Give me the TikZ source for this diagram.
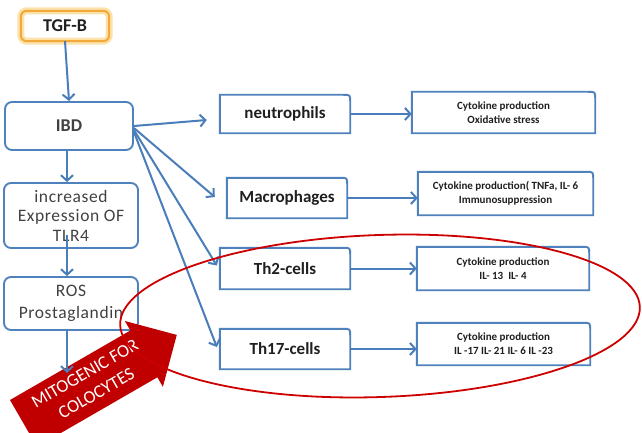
\documentclass[tikz,border=0pt]{standalone}
\usepackage{fontspec}
\setmainfont{Carlito}
\usetikzlibrary{arrows.meta,calc}
\definecolor{boxblue}{HTML}{4F81BD}
\definecolor{arrblue}{HTML}{4A7EBB}
\definecolor{darkred}{HTML}{C00000}
\definecolor{ellred}{HTML}{CC0000}
\definecolor{tgforange}{HTML}{F2A93B}
\definecolor{tgfglow}{HTML}{FCE2A8}
\definecolor{txt}{HTML}{1F1F1F}
\newcommand\trbox[1]{\draw[boxline] (#1.south west) -- (#1.north west) -- ([xshift=-7pt]#1.north east) .. controls (#1.north east) .. ([yshift=-7pt]#1.north east) -- (#1.south east) -- cycle;}
\begin{document}
\begin{tikzpicture}[x=1pt,y=-1pt,
  boxline/.style={draw=boxblue, line width=1.9pt},
  lbox/.style={boxline, rounded corners=7pt, align=center, inner sep=0pt, text=txt!85},
  rnode/.style={inner sep=0pt, align=center, text=txt},
  conn/.style={draw=arrblue, line width=2pt, -{Straight Barb[length=5.5pt,width=12pt]}},
  bigbold/.style={font=\fontsize{18}{21}\selectfont\bfseries},
  midbold/.style={font=\fontsize{17}{20}\selectfont\bfseries},
  leftfont/.style={font=\fontsize{17.5}{19.5}\selectfont\addfontfeature{LetterSpace=3.5}},
  smallbold/.style={font=\fontsize{11}{14}\selectfont\bfseries},
]
\useasboundingbox (0,0) rectangle (642,433);
\clip (0,0) rectangle (642,433);

% TGF-B
\node[rnode, bigbold, minimum width=88pt, minimum height=30pt] (tgf) at (65,26) {TGF-B};
\draw[tgfglow, line width=7pt, rounded corners=6pt] (tgf.south west) rectangle (tgf.north east);
\draw[tgforange, line width=2pt, rounded corners=6pt] (tgf.south west) rectangle (tgf.north east);

% left column
\node[lbox, bigbold, minimum width=128pt, minimum height=48pt] (ibd) at (69,126) {IBD};
\node[lbox, leftfont, minimum width=134pt, minimum height=65pt] (expr) at (71,215.5) {increased\\Expression OF\\TLR4};
\node[lbox, font=\fontsize{17.5}{22}\selectfont\addfontfeature{LetterSpace=3.5}, minimum width=134pt, minimum height=53pt] (ros) at (71,303.5) {ROS\\Prostaglandin};

% middle column
\node[rnode, midbold, minimum width=130pt, minimum height=38pt] (neut) at (285,114) {neutrophils};
\node[rnode, midbold, minimum width=120pt, minimum height=40pt] (macro) at (287,198) {Macrophages};
\node[rnode, midbold, minimum width=130pt, minimum height=41pt] (th2) at (285,268.5) {Th2-cells};
\node[rnode, midbold, minimum width=130pt, minimum height=40pt] (th17) at (285,349) {Th17-cells};
\trbox{neut}\trbox{macro}\trbox{th2}\trbox{th17}

% right column
\node[rnode, smallbold, minimum width=183pt, minimum height=41pt] (c1) at (503.5,112.5) {Cytokine production\\Oxidative stress};
\node[rnode, smallbold, minimum width=175pt, minimum height=43pt] (c2) at (505.5,193.5) {Cytokine production( TNFa, IL- 6\\Immunosuppression};
\node[rnode, smallbold, minimum width=172pt, minimum height=43pt] (c3) at (503,268.5) {Cytokine production\\IL- 13\ \ IL- 4};
\node[rnode, smallbold, minimum width=173pt, minimum height=42pt] (c4) at (503.5,344) {Cytokine production\\IL -17 IL- 21 IL- 6 IL -23};
\trbox{c1}\trbox{c2}\trbox{c3}\trbox{c4}

% connectors
\draw[conn] (tgf.south) -- (ibd.north);
\draw[conn] ([xshift=-2pt]ibd.south) -- ([xshift=-4pt]expr.north);
\draw[conn] ([yshift=14pt,xshift=-4pt]expr.south) -- ([xshift=-4pt]ros.north);
\draw[conn] (ibd.east) -- ([xshift=-13pt,yshift=-6pt]neut.west);
\draw[conn] ([yshift=-2pt]ibd.east) -- ([xshift=-12pt,yshift=1pt]macro.west);
\draw[conn] ([yshift=-4pt]ibd.east) -- ([xshift=-3pt,yshift=3pt]th2.west);
\draw[conn] ([yshift=-6pt]ibd.east) -- ([xshift=-3pt,yshift=2pt]th17.west);
\draw[conn] (neut.east) -- (neut.east -| c1.west);
\draw[conn] (macro.east) -- (macro.east -| c2.west);
\draw[conn] (th2.east) -- (th2.east -| c3.west);
\draw[conn] (th17.east) -- (th17.east -| c4.west);

% red arrow
\begin{scope}[shift={(23.5,423.4)}, rotate=30]
  \fill[darkred] (0,-27) -- (139,-27) -- (139,-38) -- (177,0) -- (139,38) -- (139,27) -- (0,27) -- cycle;
  \node[rotate=30, text=white, align=center, inner sep=0pt, font=\fontsize{18}{23}\selectfont] (mito) at (78,-1) {MITOGENIC FOR\\COLOCYTES};
\end{scope}

% red ellipse
\draw[ellred, line width=1.8pt, rotate around={2:(380,316)}] (380,316) ellipse [x radius=260, y radius=81];

\coordinate (mitotip) at (67,373);
\draw[conn] ([xshift=-4pt]ros.south) -- (mitotip);
\end{tikzpicture}
\end{document}
